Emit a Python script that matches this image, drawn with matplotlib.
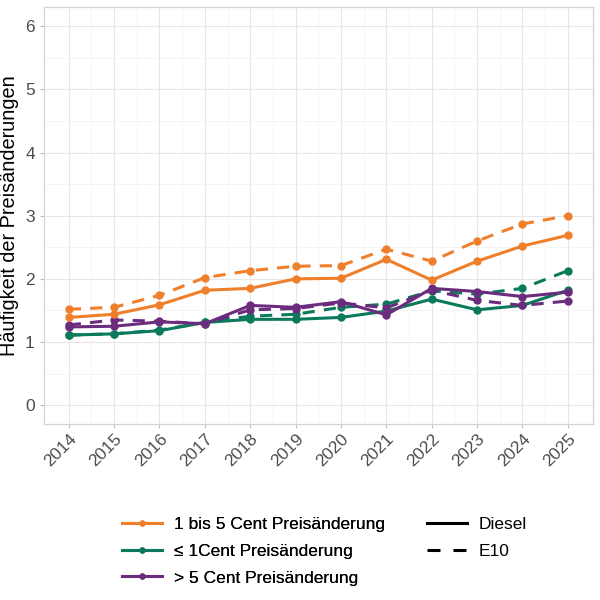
import matplotlib
matplotlib.use('Agg')
import matplotlib.pyplot as plt
from matplotlib.lines import Line2D

plt.rcParams['font.family'] = ['Liberation Sans', 'DejaVu Sans']

# --- Daten ---
years = list(range(2014, 2026))
categories = ['1 bis 5 Cent Preisänderung', '≤ 1Cent Preisänderung', '> 5 Cent Preisänderung']
colors = ['#f07f2b', '#0b7a5c', '#6c2c7e']
fuels = ['Diesel', 'E10']

diesel_1_5 = [1.39, 1.44, 1.59, 1.82, 1.85, 2.00, 2.01, 2.31, 1.98, 2.28, 2.52, 2.69]
diesel_le1 = [1.11, 1.13, 1.18, 1.31, 1.36, 1.36, 1.39, 1.49, 1.68, 1.51, 1.58, 1.82]
diesel_gt5 = [1.24, 1.25, 1.32, 1.29, 1.58, 1.55, 1.64, 1.43, 1.85, 1.80, 1.72, 1.79]

e10_1_5 = [1.52, 1.55, 1.74, 2.02, 2.13, 2.20, 2.21, 2.47, 2.28, 2.60, 2.87, 3.00]
e10_le1 = [1.11, 1.13, 1.19, 1.31, 1.41, 1.44, 1.55, 1.60, 1.81, 1.76, 1.85, 2.13]
e10_gt5 = [1.27, 1.35, 1.33, 1.29, 1.51, 1.53, 1.62, 1.54, 1.82, 1.66, 1.58, 1.65]

series = {
    'Diesel': [diesel_1_5, diesel_le1, diesel_gt5],
    'E10': [e10_1_5, e10_le1, e10_gt5],
}
linestyles = {'Diesel': '-', 'E10': (0, (4, 3))}

fig = plt.figure(figsize=(6, 6), dpi=100)
ax = fig.add_axes([0.073, 0.293, 0.915, 0.695])

# Reihenfolge: gruen, lila, orange
for i in [1, 2, 0]:
    for fuel in fuels:
        ax.plot(years, series[fuel][i], color=colors[i], linestyle=linestyles[fuel],
                lw=2.2, marker='o', ms=5, zorder=3)

ax.set_xlim(2013.45, 2025.55)
ax.set_ylim(-0.3, 6.3)
ax.set_xticks(years)
ax.set_xticklabels([str(y) for y in years], rotation=45, ha='right',
                   rotation_mode='anchor', fontsize=12.5, color='#4d4d4d')
ax.set_yticks(range(0, 7))
ax.set_yticklabels([str(v) for v in range(0, 7)], fontsize=12.5, color='#4d4d4d')
ax.set_xticks([y + 0.5 for y in years[:-1]], minor=True)
ax.set_yticks([v + 0.5 for v in range(0, 6)], minor=True)
ax.tick_params(which='major', length=3, color='#bdbdbd', width=0.8)
ax.tick_params(which='minor', length=0)
ax.tick_params(axis='x', pad=2)
ax.grid(which='major', color='#e6e6e6', lw=0.8)
ax.grid(which='minor', color='#f2f2f2', lw=0.6)
ax.set_axisbelow(True)
for sp in ax.spines.values():
    sp.set_color('#d4d4d4')
    sp.set_linewidth(0.9)

ax.set_ylabel('Häufigkeit der Preisänderungen', fontsize=14.3, labelpad=4)

# Legenden
col_handles = [Line2D([], [], color=c, lw=2.2, marker='o', ms=3.5) for c in colors]
leg1 = fig.legend(col_handles, categories, loc='upper left', bbox_to_anchor=(0.203, 0.138),
                  frameon=False, fontsize=12.5, handlelength=2.3, handletextpad=0.7,
                  labelspacing=0.66, borderaxespad=0, borderpad=0)
fig.add_artist(leg1)

lt_handles = [Line2D([], [], color='black', lw=2.2, linestyle='-'),
              Line2D([], [], color='black', lw=2.2, linestyle=(0, (4.25, 4.25)))]
fig.legend(lt_handles, fuels, loc='upper left', bbox_to_anchor=(0.711, 0.138),
           frameon=False, fontsize=12.5, handlelength=2.3, handletextpad=0.7,
           labelspacing=0.66, borderaxespad=0, borderpad=0)

fig.savefig('out.png', dpi=100)
